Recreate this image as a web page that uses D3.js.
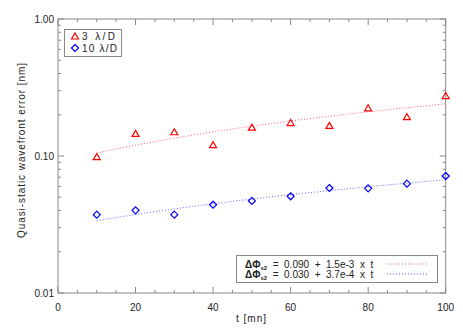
<!DOCTYPE html>
<html><head><meta charset="utf-8">
<script src="https://cdn.jsdelivr.net/npm/d3@7"></script>
<style>body{margin:0;background:#fff}svg{display:block}text{font-family:"Liberation Sans",Arial,sans-serif;fill:#222}</style>
</head><body><svg id="c" width="463" height="331"></svg>
<script>
const times = [10,20,30,40,50,60,70,80,90,100];
const series3 = [0.098,0.145,0.149,0.120,0.161,0.174,0.166,0.223,0.192,0.274];
const series10 = [0.0373,0.0401,0.0373,0.0441,0.0470,0.0508,0.0584,0.0581,0.0628,0.0714];
const fit3 = [0.090, 1.5e-3];
const fit10 = [0.030, 3.7e-4];
const xTicks = [0,20,40,60,80,100];
const yTicks = [0.01,0.1,1];
const yTickLabels = ["0.01","0.10","1.00"];

const svg = d3.select("#c");
const L=58, R=445.7, T=19, B=293;
const x = d3.scaleLinear().domain([0,100]).range([L,R]);
const y = d3.scaleLog().domain([0.01,1]).range([B,T]);
const axCol = "#888";

svg.append("rect").attr("x",L).attr("y",T).attr("width",R-L).attr("height",B-T)
  .attr("fill","none").attr("stroke",axCol).attr("stroke-width",1);

const xMinor = d3.range(0,101,5);
xMinor.forEach(v=>{
  const major = v%20===0; const len = major?6:3;
  svg.append("line").attr("x1",x(v)).attr("x2",x(v)).attr("y1",B).attr("y2",B-len).attr("stroke",axCol);
  svg.append("line").attr("x1",x(v)).attr("x2",x(v)).attr("y1",T).attr("y2",T+len).attr("stroke",axCol);
});
xTicks.forEach(v=>{
  svg.append("text").attr("x",x(v)).attr("y",311).attr("text-anchor","middle").attr("font-size",10).text(v);
});
const yMinorVals=[];
[0.01,0.1].forEach(d=>{for(let k=1;k<=9;k++) yMinorVals.push(d*k);});
yMinorVals.push(1);
yMinorVals.forEach(v=>{
  const major = yTicks.some(t=>Math.abs(t-v)<1e-9); const len = major?6:3;
  svg.append("line").attr("x1",L).attr("x2",L+len).attr("y1",y(v)).attr("y2",y(v)).attr("stroke",axCol);
  svg.append("line").attr("x1",R).attr("x2",R-len).attr("y1",y(v)).attr("y2",y(v)).attr("stroke",axCol);
});
yTicks.forEach((v,i)=>{
  svg.append("text").attr("x",54).attr("y",y(v)+3.5).attr("text-anchor","end").attr("font-size",10).text(yTickLabels[i]);
});
svg.append("text").attr("x",236).attr("y",322).attr("font-size",10)
  .attr("textLength",30).attr("lengthAdjust","spacing").text("t [mn]");
svg.append("text").attr("transform",`translate(25,238) rotate(-90)`).attr("font-size",10)
  .attr("textLength",175).attr("lengthAdjust","spacing").text("Quasi-static wavefront error [nm]");

const tt = d3.range(10,100.01,1);
const line = d3.line().x(d=>x(d[0])).y(d=>y(d[1]));
svg.append("path").attr("d",line(tt.map(t=>[t,fit3[0]+fit3[1]*t]))).attr("fill","none").attr("stroke","#ff6060").attr("stroke-width",1).attr("stroke-dasharray","1,2");
svg.append("path").attr("d",line(tt.map(t=>[t,fit10[0]+fit10[1]*t]))).attr("fill","none").attr("stroke","#6060ff").attr("stroke-width",1).attr("stroke-dasharray","1,2");

const tri = (cx,cy)=>`M${cx},${cy-3.5}L${cx+3.5},${cy+2.5}L${cx-3.5},${cy+2.5}Z`;
const dia = (cx,cy)=>`M${cx},${cy-3.5}L${cx+3.5},${cy}L${cx},${cy+3.5}L${cx-3.5},${cy}Z`;
svg.selectAll(".t").data(times).enter().append("path")
  .attr("d",(t,i)=>tri(x(t),y(series3[i]))).attr("fill","none").attr("stroke","#ff0000").attr("stroke-width",1.2);
svg.selectAll(".d").data(times).enter().append("path")
  .attr("d",(t,i)=>dia(x(t),y(series10[i]))).attr("fill","none").attr("stroke","#0000ff").attr("stroke-width",1.2);

svg.append("rect").attr("x",64.5).attr("y",29.5).attr("width",57).attr("height",27).attr("fill","#fff").attr("stroke",axCol);
svg.append("path").attr("d",tri(75,36.5)).attr("fill","none").attr("stroke","#ff0000").attr("stroke-width",1.2);
svg.append("path").attr("d",dia(75,48)).attr("fill","none").attr("stroke","#0000ff").attr("stroke-width",1.2);
svg.append("text").attr("x",82).attr("y",40).attr("font-size",10).attr("textLength",33).attr("lengthAdjust","spacing").text("3 λ/D");
svg.append("text").attr("x",82).attr("y",52).attr("font-size",10).attr("textLength",35).attr("lengthAdjust","spacing").text("10 λ/D");

svg.append("rect").attr("x",236.5).attr("y",255.5).attr("width",201).attr("height",27).attr("fill","#fff").attr("stroke",axCol);
const eq = [["0.090 + 1.5e-3 x t","#ff6060"],["0.030 + 3.7e-4 x t","#6060ff"]];
eq.forEach((e,i)=>{
  const yy = 267.5 + i*10;
  const t = svg.append("text").attr("x",245).attr("y",yy).attr("font-size",10).attr("xml:space","preserve");
  t.append("tspan").attr("font-weight","bold").text("ΔΦ");
  t.append("tspan").attr("font-size",6).attr("font-weight","bold").attr("dy",2).text("s2");
  t.append("tspan").attr("dy",-2).text("  =  " + e[0].split(" ").join("  "));
  svg.append("line").attr("x1",387).attr("x2",428).attr("y1",yy-3.5).attr("y2",yy-3.5).attr("stroke",e[1]).attr("stroke-dasharray","1,2");
});
</script></body></html>
